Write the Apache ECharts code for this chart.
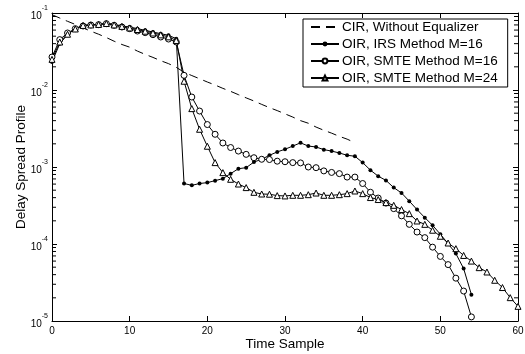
<!DOCTYPE html>
<html>
<head>
<meta charset="utf-8">
<script src="https://cdn.jsdelivr.net/npm/echarts@6/dist/echarts.min.js"></script>
<style>
html,body{margin:0;padding:0;background:#fff;}
#chart{width:525px;height:354px;}
</style>
</head>
<body>
<div id="chart"></div>
<script>
// ---- data ----
const timeSamples = [0,1,2,3,4,5,6,7,8,9,10,11,12,13,14,15,16,17,18,19,20,21,22,23,24,25,26,27,28,29,30,31,32,33,34,35,36,37,38,39,40,41,42,43,44,45,46,47,48,49,50,51,52,53,54,55,56,57,58,59,60];

const cirWithoutEq = [0.095,0.086,0.078,0.071,0.064,0.058,0.053,0.048,0.043,0.039,0.036,0.032,0.029,0.0265,0.024,0.022,0.0197,
  0.017,0.0154,0.014,0.0127,0.0116,0.0105,0.0096,0.0087,0.0079,0.0072,0.0065,0.0059,0.0054,0.0049,0.00445,0.0040,0.0037,0.0033,0.0030,0.00275,0.0025,0.0023,0.00207];

const oirIrs16 = [0.0231,0.040,0.0523,0.0626,0.0692,0.0706,0.0706,0.0741,0.0713,0.0678,0.0658,0.0626,0.0596,0.0566,0.0539,0.0513,0.0464,
  0.00061,0.000578,0.00061,0.000627,0.000665,0.000706,0.00082,0.00095,0.00098,0.00116,0.00126,0.00142,0.00157,0.0017,0.00187,0.00206,0.00187,0.00182,0.00168,0.00161,0.00152,0.00142,0.00138,0.00114,0.00091,0.00076,0.00067,0.00054,0.00046,0.00036,0.00028,0.00022,0.000175,0.000134,0.000101,7.5e-5,4.8e-5,2.2e-5];

const oirSmte16 = [0.0268,0.0451,0.055,0.0626,0.0678,0.0698,0.0706,0.0727,0.0692,0.0658,0.0626,0.0583,0.0556,0.0523,0.0488,0.0459,0.042,
  0.0155,0.0081,0.00533,0.00356,0.00266,0.00205,0.00179,0.00161,0.00146,0.00132,0.00126,0.00125,0.00119,0.00117,0.00114,0.00113,0.0010,0.00098,0.00089,0.00085,0.00082,0.00074,0.00074,0.00061,0.00047,0.000395,0.00034,0.000288,0.000232,0.00018,0.000143,0.000121,9.1e-5,6.9e-5,5.4e-5,3.6e-5,2.45e-5,1.13e-5];

const oirSmte24 = [0.025,0.042,0.053,0.062,0.069,0.070,0.071,0.073,0.070,0.067,0.064,0.061,0.058,0.055,0.052,0.049,0.044,
  0.013,0.00573,0.00309,0.00186,0.00114,0.000845,0.000692,0.000601,0.00054,0.000469,0.000446,0.000443,0.000425,0.000421,0.000429,0.000429,0.000437,0.000459,0.000429,0.000429,0.000437,0.000451,0.000488,0.000451,0.000401,0.000378,0.000345,0.000318,0.00028,0.000248,0.000199,0.00018,0.000151,0.000126,0.000103,8.7e-5,7.1e-5,6.0e-5,4.93e-5,4.33e-5,3.38e-5,2.72e-5,2.01e-5,1.55e-5];

const seriesNames = ['CIR, Without Equalizer','OIR, IRS Method M=16','OIR, SMTE Method M=16','OIR, SMTE Method M=24'];
const xTicks = [0,10,20,30,40,50,60];
const yDecadeExponents = [-5,-4,-3,-2,-1];
const yMinorMultipliers = [2,3,4,5,6,7,8,9];

// ---- build ----
const FONT = 'Liberation Sans, Arial, sans-serif';
function pairs(vals){ return vals.map((v,i)=>[timeSamples[i], v]); }

const minorLeft = [], minorRight = [];
yDecadeExponents.slice(0,-1).forEach(e => {
  yMinorMultipliers.forEach(m => {
    const v = m*Math.pow(10,e);
    minorLeft.push([xTicks[0], v]);
    minorRight.push([xTicks[xTicks.length-1], v]);
  });
});

const axisLineStyle = {color:'#000', width:1};
const openMarker = {color:'#fff', borderColor:'#000', borderWidth:1};

const chart = echarts.init(document.getElementById('chart'), null, {renderer:'canvas'});
chart.setOption({
  animation:false,
  backgroundColor:'#fff',
  grid:{left:52, right:7, top:13, bottom:33, outerBoundsMode:'none', containLabel:false},
  legend:{
    data:[
      {name:seriesNames[0], itemStyle:{opacity:0}},
      {name:seriesNames[1]},
      {name:seriesNames[2]},
      {name:seriesNames[3]}
    ],
    orient:'vertical',
    left:303, top:19,
    backgroundColor:'#fff',
    borderColor:'#000', borderWidth:1,
    padding:[1,10,2,7],
    itemWidth:28, itemHeight:6, itemGap:3,
    textStyle:{fontFamily:FONT, fontSize:13.5, color:'#000', padding:[0,0,0,-2]},
    selectedMode:false
  },
  xAxis:[{
    type:'value', min:0, max:60, interval:10,
    axisLine:{onZero:false, lineStyle:axisLineStyle},
    axisTick:{inside:true, length:5, lineStyle:axisLineStyle},
    axisLabel:{color:'#000', fontSize:10, fontFamily:FONT, margin:5},
    splitLine:{show:false},
    name:'Time Sample', nameLocation:'middle', nameGap:16, nameMoveOverlap:false,
    nameTextStyle:{fontFamily:FONT, fontSize:13.5, color:'#000'}
  },{
    type:'value', min:0, max:60, interval:10, position:'top',
    axisLine:{onZero:false, lineStyle:axisLineStyle},
    axisTick:{inside:true, length:5, lineStyle:axisLineStyle},
    axisLabel:{show:false}, splitLine:{show:false}
  }],
  yAxis:[{
    type:'log', logBase:10, min:1e-5, max:0.1,
    axisLine:{onZero:false, lineStyle:axisLineStyle},
    axisTick:{inside:true, length:5, lineStyle:axisLineStyle},
    splitLine:{show:false},
    axisLabel:{
      margin:4, color:'#000',
      formatter:function(v){ return '{b|10}{s|' + Math.round(Math.log10(v)) + '}'; },
      rich:{
        b:{fontFamily:FONT, fontSize:10, color:'#000', verticalAlign:'bottom', lineHeight:16},
        s:{fontFamily:FONT, fontSize:7, color:'#000', verticalAlign:'top', lineHeight:16}
      }
    },
    name:'Delay Spread Profile', nameLocation:'middle', nameGap:24, nameMoveOverlap:false,
    nameTextStyle:{fontFamily:FONT, fontSize:13.5, color:'#000'}
  },{
    type:'log', logBase:10, min:1e-5, max:0.1, position:'right',
    axisLine:{onZero:false, lineStyle:axisLineStyle},
    axisTick:{inside:true, length:5, lineStyle:axisLineStyle},
    axisLabel:{show:false}, splitLine:{show:false}
  }],
  series:[
    {
      name:seriesNames[0], type:'line', data:pairs(cirWithoutEq),
      symbol:'none', lineStyle:{color:'#000', width:1, type:[9,6]}, itemStyle:{color:'#000'}
    },
    {
      name:seriesNames[1], type:'line', data:pairs(oirIrs16),
      symbol:'circle', symbolSize:4, showAllSymbol:true,
      lineStyle:{color:'#000', width:1}, itemStyle:{color:'#000', borderColor:'#000', borderWidth:0}
    },
    {
      name:seriesNames[2], type:'line', data:pairs(oirSmte16),
      symbol:'circle', symbolSize:6, showAllSymbol:true,
      lineStyle:{color:'#000', width:1}, itemStyle:openMarker
    },
    {
      name:seriesNames[3], type:'line', data:pairs(oirSmte24),
      symbol:'triangle', symbolSize:6, showAllSymbol:true,
      lineStyle:{color:'#000', width:1}, itemStyle:openMarker
    },
    {
      name:'minorTicksLeft', type:'scatter', silent:true, clip:false, z:5,
      data:minorLeft, symbol:'rect', symbolSize:[4,1], symbolOffset:[2,0],
      itemStyle:{color:'#000', opacity:1}
    },
    {
      name:'minorTicksRight', type:'scatter', silent:true, clip:false, z:5,
      data:minorRight, symbol:'rect', symbolSize:[4,1], symbolOffset:[-2,0],
      itemStyle:{color:'#000', opacity:1}
    }
  ]
});
</script>
</body>
</html>
